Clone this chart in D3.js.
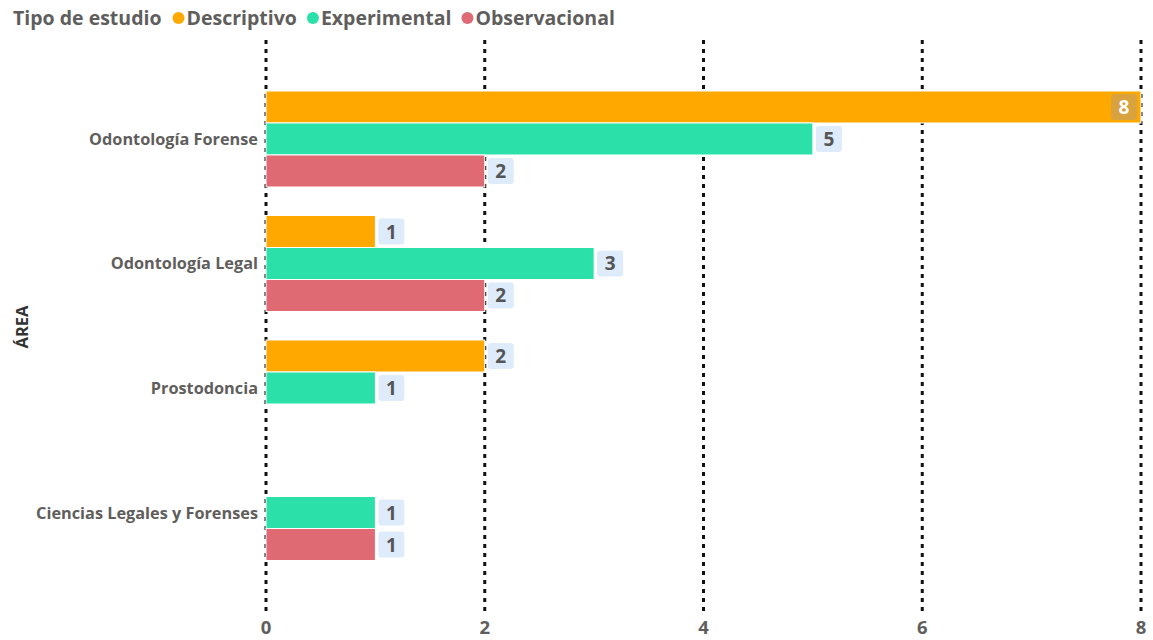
<!DOCTYPE html>
<html>
<head>
<meta charset="utf-8">
<script src="https://cdn.jsdelivr.net/npm/d3@7"></script>
<style>
  body { margin: 0; background: #fff; }
  svg text { font-family: "Open Sans", "Noto Sans", sans-serif; font-weight: 700; }
</style>
</head>
<body>
<svg id="chart" width="1153" height="640"></svg>
<script>
// Areas and study types
const areas = ["Odontología Forense", "Odontología Legal", "Prostodoncia", "Ciencias Legales y Forenses"];
const tipos = ["Descriptivo", "Experimental", "Observacional"];
const colores = ["#FFA800", "#2BE0A9", "#DF6A73"];

// Counts per area, in the order of `tipos` (null = no studies)
const descriptivo   = [8, 1, 2, null];
const experimental  = [5, 3, 1, 1];
const observacional = [2, 2, null, 1];
const xTicks = [0, 2, 4, 6, 8];

const series = [descriptivo, experimental, observacional];
const rows = [];
areas.forEach((a, i) => {
  tipos.forEach((t, j) => {
    if (series[j][i] != null) rows.push({ area: a, tipo: t, value: series[j][i], color: colores[j] });
  });
});

const svg = d3.select("#chart");
const grey = "#605E5C";

const x = d3.scaleLinear().domain([0, 8]).range([266, 1141]);
const y0 = d3.scaleBand().domain(areas).range([91, 560.5]).paddingInner(0.229).paddingOuter(0);
const y1 = d3.scaleBand().domain(tipos).range([0, y0.bandwidth()]);

// Vertical dotted gridlines
svg.append("g").selectAll("line").data(xTicks).join("line")
  .attr("x1", d => x(d)).attr("x2", d => x(d))
  .attr("y1", 40).attr("y2", 616)
  .attr("stroke", "#111").attr("stroke-width", 3)
  .attr("stroke-dasharray", "4,5");

// Bars
svg.append("g").selectAll("rect").data(rows).join("rect")
  .attr("x", x(0))
  .attr("y", d => y0(d.area) + y1(d.tipo))
  .attr("width", d => x(d.value) - x(0))
  .attr("height", y1.bandwidth())
  .attr("fill", d => d.color)
  .attr("stroke", "#fff").attr("stroke-width", 1);

// Data labels in rounded boxes (the label that does not fit outside sits inside the bar end)
const fitsOutside = d => x(d.value) + 32 < 1150;
const labels = svg.append("g").selectAll("g").data(rows).join("g")
  .attr("transform", d => {
    const bx = fitsOutside(d) ? x(d.value) + 3 : x(d.value) - 30;
    const by = y0(d.area) + y1(d.tipo) + y1.bandwidth() / 2 - 13;
    return `translate(${bx},${by})`;
  });
labels.append("rect")
  .attr("width", 26).attr("height", 26).attr("rx", 3)
  .attr("fill", d => fitsOutside(d) ? "#DDEBFB" : "#D8A23E");
labels.append("text")
  .attr("x", 13).attr("y", 20)
  .attr("text-anchor", "middle")
  .attr("font-size", 19)
  .attr("fill", d => fitsOutside(d) ? "#555" : "#fff")
  .text(d => d.value);

// Category labels
svg.append("g").selectAll("text").data(areas).join("text")
  .attr("x", 258)
  .attr("y", d => y0(d) + y0.bandwidth() / 2 + 6)
  .attr("text-anchor", "end")
  .attr("font-size", 16.3)
  .attr("fill", grey)
  .text(d => d);

// Axis title
svg.append("text")
  .attr("transform", "translate(28,327) rotate(-90)")
  .attr("text-anchor", "middle")
  .attr("font-size", 16.5)
  .attr("fill", "#333")
  .text("ÁREA");

// X tick labels
svg.append("g").selectAll("text").data(xTicks).join("text")
  .attr("x", d => x(d))
  .attr("y", 634)
  .attr("text-anchor", "middle")
  .attr("font-size", 18.5)
  .attr("fill", grey)
  .text(d => d);

// Legend, laid out left to right
const legend = svg.append("g");
const title = legend.append("text").attr("x", 13).attr("y", 25).attr("font-size", 19.5).attr("fill", grey).text("Tipo de estudio");
let cursor = 13 + title.node().getComputedTextLength() + 17;
tipos.forEach((t, i) => {
  legend.append("circle").attr("cx", cursor).attr("cy", 18).attr("r", 6).attr("fill", colores[i]);
  const lt = legend.append("text").attr("x", cursor + 8).attr("y", 25).attr("font-size", 19.5).attr("fill", grey).text(t);
  cursor += 8 + lt.node().getComputedTextLength() + 16;
});
</script>
</body>
</html>
